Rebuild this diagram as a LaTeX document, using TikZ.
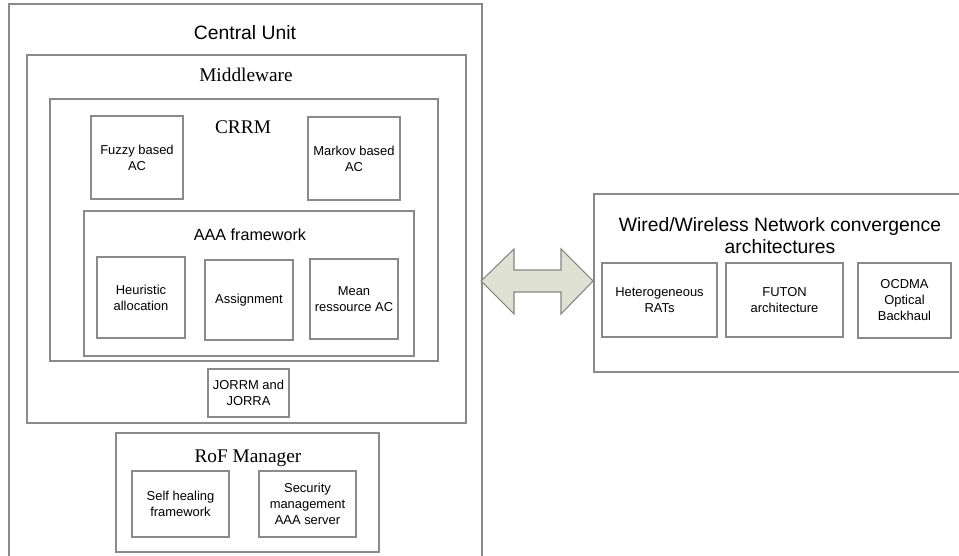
\documentclass[tikz,border=0pt]{standalone}
\usepackage{fontspec}
\setmainfont{Liberation Serif}
\setsansfont{Liberation Sans}
\usetikzlibrary{fit}
\definecolor{boxline}{HTML}{8A8A8A}
\definecolor{arrowfill}{HTML}{DFE1D2}
\definecolor{arrowline}{HTML}{858585}
\begin{document}
\begin{tikzpicture}[x=0.75pt,y=-0.75pt,
  box/.style={draw=boxline, line width=0.8pt, inner sep=0pt},
  boxtext/.style={inner sep=0pt, align=center,
              font=\sffamily\fontsize{9.7}{12}\selectfont},
  sanstitle/.style={font=\sffamily\fontsize{14.5}{17}\selectfont, inner sep=0pt},
  seriftitle/.style={font=\rmfamily\fontsize{14.5}{17}\selectfont, inner sep=0pt},
  aaatitle/.style={font=\sffamily\fontsize{12.1}{14}\selectfont, inner sep=0pt},
  bigarrow/.style={draw=arrowline, fill=arrowfill, line width=0.8pt, line join=miter}]
\useasboundingbox (0,0) rectangle (959,556);

% Central Unit (open at the bottom)
\coordinate (cuBL) at (9,556);
\coordinate (cuTL) at (9,4);
\coordinate (cuTR) at (482,4);
\coordinate (cuBR) at (482,556);
\draw[boxline, line width=0.8pt] (cuBL) -- (cuTL) -- (cuTR) -- (cuBR);
\node[sanstitle, anchor=base] (cutitle) at (245,40) {Central Unit};

% Middleware
\node[box, fit={(27,55) (466,423)}] (mw) {};
\node[seriftitle, anchor=base] (mwtitle) at (246,82) {Middleware};

% CRRM
\node[box, fit={(50,99) (438,361)}] (crrm) {};
\node[seriftitle, anchor=base] (crrmtitle) at (243,133) {CRRM};
\node[box, fit={(91,116) (183,199)}] (fuzzy) {};
\node[boxtext] (fuzzyt) at (fuzzy.center) {Fuzzy based\\AC};
\node[box, fit={(308,117) (400,200)}] (markov) {};
\node[boxtext] (markovt) at (markov.center) {Markov based\\AC};

% AAA framework
\node[box, fit={(84,211) (414,356)}] (aaa) {};
\node[aaatitle, anchor=base] (aaatitle) at (250,240) {AAA framework};
\node[box, fit={(97,257) (185,338)}] (heur) {};
\node[boxtext] (heurt) at (heur.center) {Heuristic\\allocation};
\node[box, fit={(205,260) (293,340)}] (assign) {};
\node[boxtext] (assignt) at (assign.center) {Assignment};
\node[box, fit={(310,259) (398,339)}] (mean) {};
\node[boxtext] (meant) at (mean.center) {Mean\\ressource AC};

% JORRM
\node[box, fit={(208,369) (289,417)}] (jorrm) {};
\node[boxtext] (jorrmt) at (jorrm.center) {JORRM and\\JORRA};

% RoF Manager
\node[box, fit={(116,433) (379,552)}] (rof) {};
\node[seriftitle, anchor=base] (roftitle) at (248,462) {RoF Manager};
\node[box, fit={(132,471) (229,537)}] (self) {};
\node[boxtext] (selft) at (self.center) {Self healing\\framework};
\node[box, fit={(259,471) (356,537)}] (secu) {};
\node[boxtext] (secut) at (secu.center) {Security\\management\\AAA server};

% Wired/Wireless box (open at the right)
\coordinate (wwTR) at (960,194);
\coordinate (wwTL) at (594,194);
\coordinate (wwBL) at (594,372);
\coordinate (wwBR) at (960,372);
\draw[boxline, line width=0.8pt] (wwTR) -- (wwTL) -- (wwBL) -- (wwBR);
\node[sanstitle, align=center, font=\sffamily\fontsize{14.5}{16.2}\selectfont] (wwtitle) at (780,235.5)
  {Wired/Wireless Network convergence\\architectures};
\node[box, fit={(602,263) (717,337)}] (rats) {};
\node[boxtext] (ratst) at (rats.center) {Heterogeneous\\RATs};
\node[box, fit={(726,263) (843,337)}] (futon) {};
\node[boxtext] (futont) at (futon.center) {FUTON\\architecture};
\node[box, fit={(858,263) (951,338)}] (ocdma) {};
\node[boxtext] (ocdmat) at (ocdma.center) {OCDMA\\Optical\\Backhaul};

% Double arrow between the two parts
\coordinate (aL) at (481,281);
\coordinate (aR) at (593,281);
\draw[bigarrow] (aL) -- (514,249) -- (514,270) -- (561,270) -- (561,249) -- (aR)
  -- (561,314) -- (561,292) -- (514,292) -- (514,314) -- cycle;
\end{tikzpicture}
\end{document}
